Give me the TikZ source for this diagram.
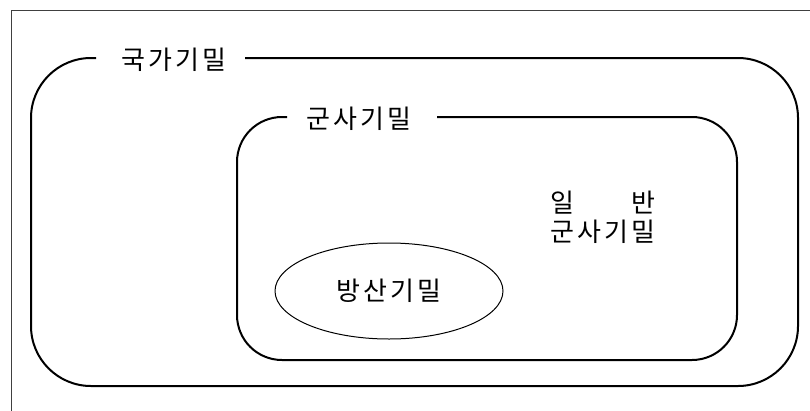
\documentclass[tikz,border=0pt]{standalone}
\usepackage{fontspec}
\newfontfamily\kr[LetterSpace=12]{Noto Sans CJK KR}
\usetikzlibrary{shapes.geometric}
\begin{document}
\begin{tikzpicture}[x=1pt,y=-1pt,
  frameline/.style={draw=black!75, line width=0.9pt},
  boxline/.style={draw=black, line width=2pt},
  lbl/.style={font=\kr\fontsize{26}{29}\selectfont, inner sep=0pt, anchor=center}]
\useasboundingbox (0,0) rectangle (810,410);
\fill[white] (0,0) rectangle (810,410);
% outer frame (top and left visible)
\draw[frameline] (811,10) -- (11,10) -- (11,411);
% labels
\node[lbl] (national) at (174,60) {국가기밀};
\node[lbl] (military) at (359,119) {군사기밀};
\node[lbl, align=center] (general) at (603,217) {\sbox0{군사기밀}\makebox[\wd0][s]{일\hfill 반}\\군사기밀};
\node[ellipse, draw=black, line width=1pt, minimum width=228pt, minimum height=96pt] (defense) at (389,291) {};
\node[lbl] (defenselbl) at (defense.center) {방산기밀};
% outer rounded box with gap for label
\draw[boxline, rounded corners=60pt] (245,58) -- (798,58) -- (798,386) -- (31,386) -- (31,58) -- (96,58);
% inner rounded box with gap for label
\draw[boxline, rounded corners=45pt] (437,117) -- (737,117) -- (737,360) -- (237,360) -- (237,117) -- (287,117);
\end{tikzpicture}
\end{document}
